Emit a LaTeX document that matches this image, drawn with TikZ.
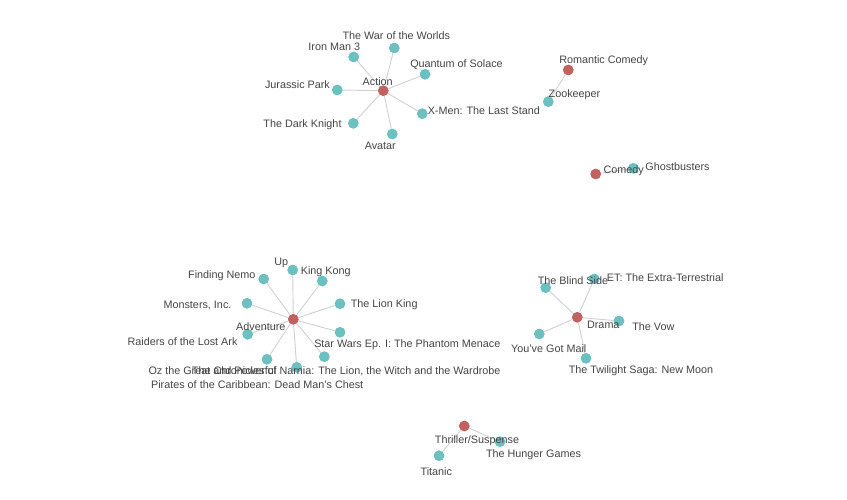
\documentclass[tikz,border=0pt]{standalone}
\usepackage{fontspec}
\setmainfont{Liberation Sans}
\definecolor{genre}{RGB}{192,98,96}
\definecolor{movie}{RGB}{108,192,192}
\definecolor{edgec}{RGB}{208,208,208}
\definecolor{txt}{RGB}{68,68,68}
\begin{document}
\begin{tikzpicture}[x=1pt,y=-1pt,
  gen/.style={circle,fill=genre,inner sep=0pt,minimum size=10.5pt},
  mov/.style={circle,fill=movie,inner sep=0pt,minimum size=10.5pt},
  lab/.style={text=txt,font=\fontsize{10.8}{12}\selectfont,inner sep=0pt,anchor=center,yshift=-1pt},
  link/.style={draw=edgec,line width=0.9pt}]
\useasboundingbox (0,0) rectangle (847,500);
% genre nodes
\node[gen] (action) at (383.3,90.7) {};
\node[gen] (romcom) at (568.3,70) {};
\node[gen] (comedy) at (595.7,174) {};
\node[gen] (adv) at (293.3,319.3) {};
\node[gen] (drama) at (577.3,317.3) {};
\node[gen] (thrill) at (464.3,426) {};
% movie nodes
\node[mov] (war) at (394.3,48) {};
\node[mov] (iron) at (353.7,57) {};
\node[mov] (quantum) at (425,74.3) {};
\node[mov] (jurassic) at (337.3,90) {};
\node[mov] (xmen) at (422.3,113.7) {};
\node[mov] (knight) at (353.3,123.3) {};
\node[mov] (avatar) at (392.3,134) {};
\node[mov] (zoo) at (548.3,101.7) {};
\node[mov] (ghost) at (633.3,168.3) {};
\node[mov] (up) at (292.7,270) {};
\node[mov] (kong) at (322.3,281) {};
\node[mov] (nemo) at (263.7,279) {};
\node[mov] (monsters) at (247,303.3) {};
\node[mov] (lion) at (340,303.7) {};
\node[mov] (starwars) at (340,332.3) {};
\node[mov] (raiders) at (247.7,334.3) {};
\node[mov] (oz) at (267,359.3) {};
\node[mov] (narnia) at (324.3,356.7) {};
\node[mov] (pirates) at (296.7,367.3) {};
\node[mov] (blind) at (545.7,287.7) {};
\node[mov] (et) at (594.3,279) {};
\node[mov] (vow) at (619,321) {};
\node[mov] (mail) at (539.3,334) {};
\node[mov] (twilight) at (586,358.3) {};
\node[mov] (hunger) at (500,441.7) {};
\node[mov] (titanic) at (439,455.7) {};
% links
\foreach \m in {war,iron,quantum,jurassic,xmen,knight,avatar}
  \path[link] (action) -- (\m);
\path[link] (romcom) -- (zoo);
\path[link] (comedy) -- (ghost);
\foreach \m in {up,kong,nemo,monsters,lion,starwars,raiders,oz,narnia,pirates}
  \path[link] (adv) -- (\m);
\foreach \m in {blind,et,vow,mail,twilight}
  \path[link] (drama) -- (\m);
\path[link] (thrill) -- (hunger);
\path[link] (thrill) -- (titanic);
% redraw nodes on top of links
\foreach \n in {action,romcom,comedy,adv,drama,thrill}
  \fill[genre] (\n) circle (5.25pt);
\foreach \n in {war,iron,quantum,jurassic,xmen,knight,avatar,zoo,ghost,up,kong,nemo,monsters,lion,starwars,raiders,oz,narnia,pirates,blind,et,vow,mail,twilight,hunger,titanic}
  \fill[movie] (\n) circle (5.25pt);
% labels
\node[lab] (lwar) at (396.3,35) {The War of the Worlds};
\node[lab] (liron) at (334.3,46) {Iron Man 3};
\node[lab] (lquantum) at (456.5,64) {Quantum of Solace};
\node[lab] (laction) at (377.7,80.7) {Action};
\node[lab] (ljurassic) at (297.5,84) {Jurassic Park};
\node[lab] (lxmen) at (483.8,110) {X-Men: The Last Stand};
\node[lab] (lknight) at (302.5,123.3) {The Dark Knight};
\node[lab] (lavatar) at (380.3,145) {Avatar};
\node[lab] (lromcom) at (603.7,60) {Romantic Comedy};
\node[lab] (lzoo) at (574.5,94) {Zookeeper};
\node[lab] (lcomedy) at (623.7,170) {Comedy};
\node[lab] (lghost) at (677.5,166) {Ghostbusters};
\node[lab] (lup) at (281.3,261.7) {Up};
\node[lab] (lkong) at (325.8,270.7) {King Kong};
\node[lab] (lnemo) at (221.8,274.3) {Finding Nemo};
\node[lab] (lmonsters) at (197.5,304) {Monsters, Inc.};
\node[lab] (llion) at (384.2,304) {The Lion King};
\node[lab] (ladv) at (260.8,326) {Adventure};
\node[lab] (lstarwars) at (407.3,343.3) {Star Wars Ep. I: The Phantom Menace};
\node[lab] (lraiders) at (182.5,340.7) {Raiders of the Lost Ark};
\node[lab,anchor=west] (loz) at (148.3,370) {Oz the Great and Powerful};
\node[lab,anchor=west] (lnarnia) at (191.7,370) {The Chronicles of Narnia: The Lion, the Witch and the Wardrobe};
\node[lab] (lpirates) at (257.2,383.3) {Pirates of the Caribbean: Dead Man's Chest};
\node[lab] (lblind) at (573,280) {The Blind Side};
\node[lab] (let) at (665.2,276.7) {ET: The Extra-Terrestrial};
\node[lab] (ldrama) at (603.3,324) {Drama};
\node[lab] (lvow) at (653.3,326) {The Vow};
\node[lab] (lmail) at (548.7,347.3) {You've Got Mail};
\node[lab] (ltwilight) at (641,369.3) {The Twilight Saga: New Moon};
\node[lab] (lthrill) at (477,439.3) {Thriller/Suspense};
\node[lab] (lhunger) at (533.5,453.3) {The Hunger Games};
\node[lab] (ltitanic) at (436.3,470.7) {Titanic};
\end{tikzpicture}
\end{document}
